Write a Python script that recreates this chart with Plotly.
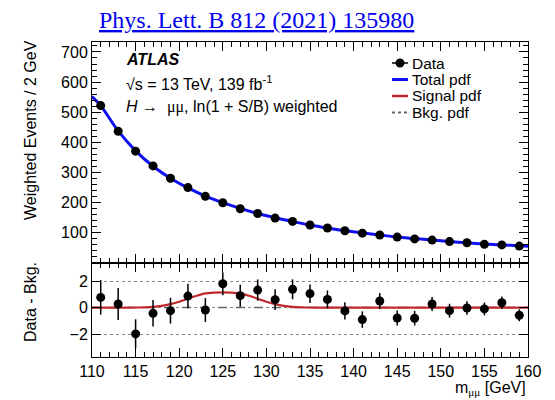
import plotly.graph_objects as go

# Bin centres (2 GeV bins) and weighted event counts
mass = [111, 113, 115, 117, 119, 121, 123, 125, 127, 129, 131, 133, 135,
        137, 139, 141, 143, 145, 147, 149, 151, 153, 155, 157, 159]
weighted_events = [522, 437, 371, 322, 281, 250, 221, 200, 180, 164, 149, 138, 126,
                   116, 107, 99, 93, 86, 80, 76, 71, 67, 62, 60, 56]

# Data minus background-only pdf, with the data uncertainties
residuals = [0.77, 0.27, -1.98, -0.43, -0.23, 0.87, -0.18, 1.80, 0.90, 1.32, 0.60, 1.38, 1.05,
             0.62, -0.25, -0.90, 0.50, -0.78, -0.80, 0.27, -0.23, -0.03, -0.10, 0.37, -0.58]
errors = [1.30, 1.20, 1.10, 1.00, 0.97, 0.92, 0.90, 0.86, 0.83, 0.80, 0.78, 0.75, 0.70,
          0.67, 0.65, 0.62, 0.60, 0.57, 0.55, 0.53, 0.52, 0.50, 0.48, 0.47, 0.45]

# Total (signal + background) pdf
pdf_mass = [110, 111, 113, 115, 117, 119, 121, 123, 125, 127, 129, 131, 133, 135,
            137, 139, 141, 143, 145, 147, 149, 151, 153, 155, 157, 159, 160]
total_pdf = [552, 522, 438, 372, 321, 281, 249, 222, 200, 181, 164, 150, 138, 126,
             116, 107, 100, 93, 86, 81, 76, 71, 67, 63, 60, 57, 55.5]

# Signal pdf around the Higgs mass
sig_mass = [110, 114, 115, 116, 117, 118, 119, 120, 121, 122, 123, 124, 125,
            126, 127, 128, 129, 130, 131, 132, 133, 134, 135, 136, 160]
signal_pdf = [0.0, 0.0, 0.01, 0.025, 0.06, 0.13, 0.26, 0.44, 0.67, 0.89, 1.07, 1.13, 1.15,
              1.13, 1.07, 0.89, 0.67, 0.44, 0.26, 0.13, 0.06, 0.025, 0.01, 0.0, 0.0]

# Background-only pdf in the difference panel
bkg_mass = [110, 160]
bkg_residual = [0, 0]

x_ticks = [110, 115, 120, 125, 130, 135, 140, 145, 150, 155, 160]
upper_ticks = [100, 200, 300, 400, 500, 600, 700]
lower_ticks = [-2, 0, 2]
lower_labels = ["\u22122", "0", "2"]

BLUE = "#1010f0"
RED = "#c0282d"
GREY = "#666666"
FONT = "Liberation Sans"
SERIF = "Liberation Serif"

W, H = 555, 400
ML, MR, MT, MB = 92, 27, 42, 43
PW, PH = W - ML - MR, H - MT - MB


def px(xp):
    return (xp - ML) / PW


def py(yp):
    return (H - MB - yp) / PH


fig = go.Figure()

# Upper panel
fig.add_trace(go.Scatter(x=sig_mass, y=signal_pdf, mode="lines", xaxis="x", yaxis="y",
                         line=dict(color=RED, width=2), showlegend=False))
fig.add_trace(go.Scatter(x=pdf_mass, y=total_pdf, mode="lines", xaxis="x", yaxis="y",
                         line=dict(color=BLUE, width=3, shape="spline", smoothing=0.8),
                         showlegend=False))
fig.add_trace(go.Scatter(x=mass, y=weighted_events, mode="markers", xaxis="x", yaxis="y",
                         marker=dict(color="black", size=9),
                         error_y=dict(type="data", array=errors, width=0, thickness=1.5,
                                      color="black"),
                         showlegend=False))

# Lower panel
fig.add_trace(go.Scatter(x=bkg_mass, y=bkg_residual, mode="lines", xaxis="x2", yaxis="y2",
                         line=dict(color=GREY, width=1.5, dash="dash"), showlegend=False))
fig.add_trace(go.Scatter(x=sig_mass, y=signal_pdf, mode="lines", xaxis="x2", yaxis="y2",
                         line=dict(color=RED, width=2.2, shape="spline", smoothing=0.6),
                         showlegend=False))
fig.add_trace(go.Scatter(x=mass, y=residuals, mode="markers", xaxis="x2", yaxis="y2",
                         marker=dict(color="black", size=9),
                         error_y=dict(type="data", array=errors, width=0, thickness=1.5,
                                      color="black"),
                         showlegend=False))

split = (H - MB - 263) / PH

axis_common = dict(
    showline=True, linecolor="black", linewidth=1, mirror="allticks",
    ticks="inside", tickcolor="black", tickwidth=1, ticklen=9,
    showgrid=False, zeroline=False,
    tickfont=dict(family=FONT, size=16, color="black"),
)

fig.update_layout(
    width=W, height=H,
    margin=dict(l=ML, r=MR, t=MT, b=MB),
    paper_bgcolor="white", plot_bgcolor="white",
    font=dict(family=FONT, size=16, color="black"),
    showlegend=False,
    xaxis=dict(axis_common, domain=[0, 1], range=[110, 160], anchor="y",
               tickvals=x_ticks, showticklabels=False,
               minor=dict(dtick=1, tick0=110, ticklen=5, tickcolor="black", ticks="inside")),
    yaxis=dict(axis_common, domain=[split, 1], range=[0, 733], anchor="x",
               tickvals=upper_ticks,
               minor=dict(dtick=20, tick0=0, ticklen=5, tickcolor="black", ticks="inside")),
    xaxis2=dict(axis_common, domain=[0, 1], range=[110, 160], anchor="y2", matches="x",
                tickvals=x_ticks,
                minor=dict(dtick=1, tick0=110, ticklen=5, tickcolor="black", ticks="inside")),
    yaxis2=dict(axis_common, domain=[0, split], range=[-3.72, 3.36], anchor="x2",
                tickvals=lower_ticks, ticktext=lower_labels,
                showgrid=True, gridcolor="#888888", gridwidth=1, griddash="dot"),
)

annotations = [
    dict(text="<u>Phys. Lett. B 812 (2021) 135980</u>", x=px(256), y=py(20),
         font=dict(family=SERIF, size=24, color="#0000ee")),
    dict(text="<b><i>ATLAS</i></b>", x=px(124), y=py(59), xanchor="left"),
    dict(text="\u221as = 13 TeV, 139 fb<sup>-1</sup>", x=px(124), y=py(83), xanchor="left"),
    dict(text="<i>H</i> \u2192  <span style=\"font-family:Liberation Serif\">\u03bc\u03bc</span>, "
              "ln(1 + S/B) weighted", x=px(124), y=py(107), xanchor="left"),
    dict(text="Weighted Events / 2 GeV", x=px(30), y=py(130), textangle=-90),
    dict(text="Data - Bkg.", x=px(30), y=py(302), textangle=-90),
    dict(text="m<sub><span style=\"font-family:Liberation Serif\">\u03bc\u03bc</span></sub> [GeV]",
         x=px(528), y=py(388), xanchor="right"),
]

# Legend entries
legend_rows = [("Data", 63), ("Total pdf", 79.5), ("Signal pdf", 96), ("Bkg. pdf", 112.5)]
legend_x0, legend_x1, text_x = 392, 408, 410
for label, yrow in legend_rows:
    annotations.append(dict(text=label, x=px(text_x), y=py(yrow), xanchor="left",
                            font=dict(family=FONT, size=15.5, color="black")))

row_y = {label: yrow for label, yrow in legend_rows}
shapes = [
    dict(type="line", x0=px(legend_x0), x1=px(legend_x1), y0=py(row_y["Data"]), y1=py(row_y["Data"]),
         line=dict(color="black", width=1.5)),
    dict(type="circle", x0=px(400 - 4.5), x1=px(400 + 4.5),
         y0=py(row_y["Data"] - 4.5), y1=py(row_y["Data"] + 4.5),
         fillcolor="black", line=dict(color="black", width=0)),
    dict(type="line", x0=px(legend_x0), x1=px(legend_x1), y0=py(row_y["Total pdf"]),
         y1=py(row_y["Total pdf"]), line=dict(color=BLUE, width=3)),
    dict(type="line", x0=px(legend_x0), x1=px(legend_x1), y0=py(row_y["Signal pdf"]),
         y1=py(row_y["Signal pdf"]), line=dict(color=RED, width=2.5)),
    dict(type="line", x0=px(legend_x0), x1=px(legend_x1), y0=py(row_y["Bkg. pdf"]),
         y1=py(row_y["Bkg. pdf"]), line=dict(color=GREY, width=2, dash="dot")),
]

for a in annotations:
    a.setdefault("xref", "paper")
    a.setdefault("yref", "paper")
    a.setdefault("xanchor", "center")
    a.setdefault("yanchor", "middle")
    a.setdefault("showarrow", False)
    a.setdefault("font", dict(family=FONT, size=16, color="black"))
for s in shapes:
    s["xref"] = "paper"
    s["yref"] = "paper"

fig.update_layout(annotations=annotations, shapes=shapes)

fig.write_html("out.html")
